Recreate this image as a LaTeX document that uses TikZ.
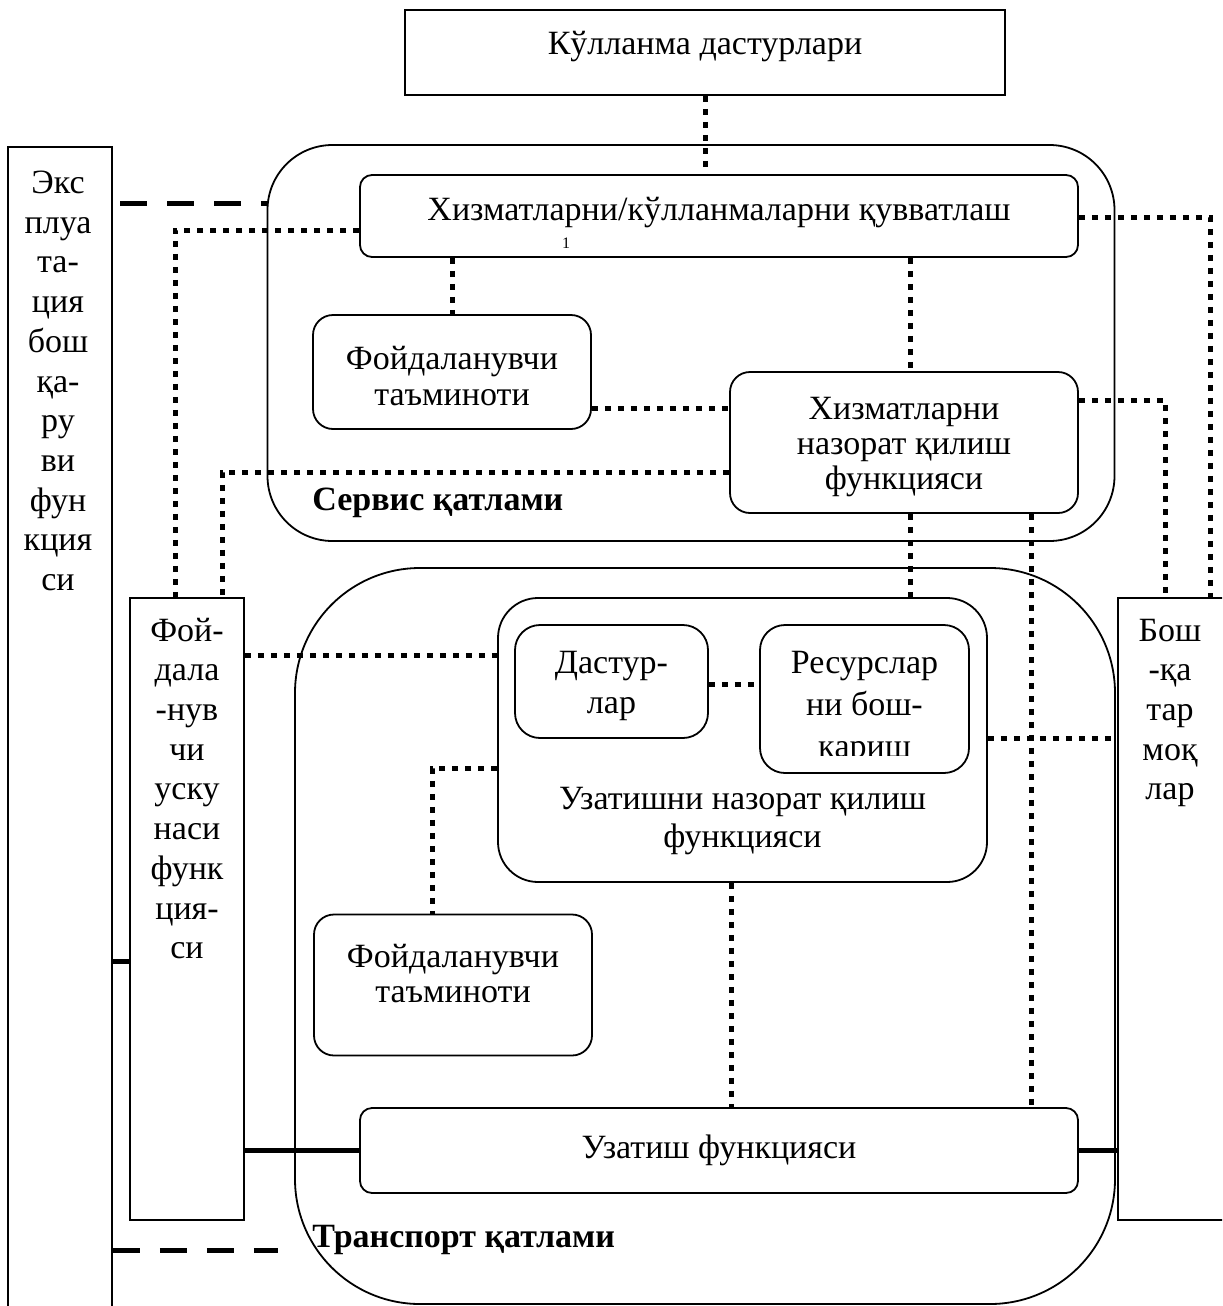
\documentclass[tikz,border=0pt]{standalone}
\usepackage{fontspec}
\setmainfont{Liberation Serif}
\begin{document}
\begin{tikzpicture}[x=0.5pt,y=-0.5pt,
  base/.style={draw, line width=0.9pt, inner sep=0pt, align=center,
    font=\fontsize{17}{17.5}\selectfont},
  sq/.style={base},
  rbox/.style={base, rounded corners=#1},
  rbox/.default=10pt,
  layer/.style={draw, line width=0.9pt, inner sep=0pt, rounded corners=#1},
  txt/.style={align=center, inner sep=0pt, font=\fontsize{17}{17.5}\selectfont},
  wtxt/.style={align=center, inner sep=0pt, font=\fontsize{17}{20}\selectfont},
  coltext/.style={align=center, inner sep=0pt, font=\fontsize{17}{19.85}\selectfont},
  lbl/.style={anchor=west, inner sep=0pt, font=\fontsize{17}{20}\selectfont\bfseries},
  dotline/.style={line width=2.5pt, dash pattern=on 3pt off 3.5pt},
  dashline/.style={line width=2.5pt, dash pattern=on 13.5pt off 10pt},
  solidline/.style={line width=2.5pt}
]
\useasboundingbox (0,0) rectangle (1222,1306);
\clip (0,0) rectangle (1222,1306);

% layers
\node[layer=32.5pt, minimum width=423.5pt, minimum height=198pt] (svc) at (691,343) {};
\node[layer=62.5pt, minimum width=410pt, minimum height=368pt] (trn) at (705,936) {};

% top application box
\node[sq, minimum width=300pt, minimum height=42.5pt] (top) at (705,52.5) {};
\node[txt] (toptext) at (705,47) {Кўлланма дастурлари};

% service layer
\node[rbox=6pt, minimum width=359pt, minimum height=41pt] (supp) at (719,216) {};
\node[txt] (supptext) at (719,213) {Хизматларни/кўлланмаларни қувватлаш};
\node[inner sep=0pt, font=\fontsize{8}{8}\selectfont] (mark) at (566,243) {1};
\node[rbox=10pt, minimum width=139pt, minimum height=57pt] (userS) at (452,372) {};
\node[txt, font=\fontsize{17}{18}\selectfont] (userStext) at (452,376) {Фойдаланувчи\\таъминоти};
\node[rbox=10pt, minimum width=174pt, minimum height=70.5pt] (svcctl) at (904,442.5) {};
\node[txt] (svcctltext) at (904,447) {Хизматларни\\назорат қилиш\\функцияси};
\node[lbl] (svclbl) at (312,503) {Сервис қатлами};

% transport layer
\node[rbox=20pt, minimum width=244.5pt, minimum height=142pt] (tctl) at (742.5,740) {};
\node[txt, font=\fontsize{17}{19}\selectfont] (tctltext) at (742.5,821) {Узатишни назорат қилиш\\функцияси};
\node[rbox=12.5pt, minimum width=96.5pt, minimum height=56.5pt] (prog) at (611.5,681.5) {};
\node[wtxt] (progtext) at (611.5,686) {Дастур-\\лар};
\node[rbox=12.5pt, minimum width=104.5pt, minimum height=74pt] (res) at (864.5,699) {};
\begin{scope}
  \clip (res.north west) rectangle (res.east |- 0,755);
  \node[txt, font=\fontsize{17}{21}\selectfont] (restext) at (864.5,708) {Ресурслар\\ни бош-\\қариш};
\end{scope}
\node[rbox=10pt, minimum width=139pt, minimum height=70.5pt] (userT) at (453,985) {};
\node[txt] (userTtext) at (453,974) {Фойдаланувчи\\таъминоти};
\node[rbox=6pt, minimum width=359pt, minimum height=42.5pt] (xfer) at (719,1150.5) {Узатиш функцияси};
\node[lbl] (trnlbl) at (312,1240) {Транспорт қатлами};

% side columns
\node[sq, minimum width=52pt, minimum height=591.5pt] (expl) at (60,738.5) {};
\node[coltext] (expltext) at (58,381) {Экс\\плуа\\та-\\ция\\бош\\қа-\\ру\\ви\\фун\\кция\\си};
\node[sq, minimum width=57pt, minimum height=311pt] (udev) at (187,909) {};
\node[coltext] (udevtext) at (187,788.5) {Фой-\\дала\\-нув\\чи\\уску\\наси\\функ\\ция-\\си};
\node[sq, minimum width=61pt, minimum height=311pt] (other) at (1179,909) {};
\node[coltext] (othertext) at (1170,713) {Бош\\-қа\\тар\\моқ\\лар};

% dotted links
\draw[dotline] (top.south) -- (top.south |- supp.north);
\draw[dotline] (supp.west |- 0,230) -- (175,230) -- (udev.north -| 175,0);
\draw[dotline] (svcctl.west |- 0,472) -- (222,472) -- (udev.north -| 222,0);
\draw[dotline] (supp.south -| 452,0) -- (userS.north);
\draw[dotline] (supp.south -| 910,0) -- (svcctl.north -| 910,0);
\draw[dotline] (userS.east |- 0,408) -- (svcctl.west |- 0,408);
\draw[dotline] (supp.east |- 0,217) -- (1210,217) -- (other.north -| 1210,0);
\draw[dotline] (svcctl.east |- 0,400) -- (1165,400) -- (other.north -| 1165,0);
\draw[dotline] (svcctl.south -| 910,0) -- (tctl.north -| 910,0);
\draw[dotline] (svcctl.south -| 1031,0) -- (xfer.north -| 1031,0);
\draw[dotline] (udev.east |- 0,655) -- (tctl.west |- 0,655);
\draw[dotline] (prog.east |- 0,684) -- (res.west |- 0,684);
\draw[dotline] (tctl.east |- 0,738) -- (other.west |- 0,738);
\draw[dotline] (tctl.west |- 0,768) -- (432,768) -- (userT.north -| 432,0);
\draw[dotline] (tctl.south -| 731,0) -- (xfer.north -| 731,0);

% management links
\coordinate (dashA) at (120,203);
\coordinate (dashB) at (278,1250);
\draw[dashline] (dashA) -- (svc.west |- dashA);
\draw[dashline] (expl.east |- dashB) -- (dashB);
\draw[solidline] (expl.east |- 0,961) -- (udev.west |- 0,961);
\draw[solidline] (udev.east |- xfer.west) -- (xfer.west);
\draw[solidline] (xfer.east) -- (other.west |- xfer.east);
\end{tikzpicture}
\end{document}
